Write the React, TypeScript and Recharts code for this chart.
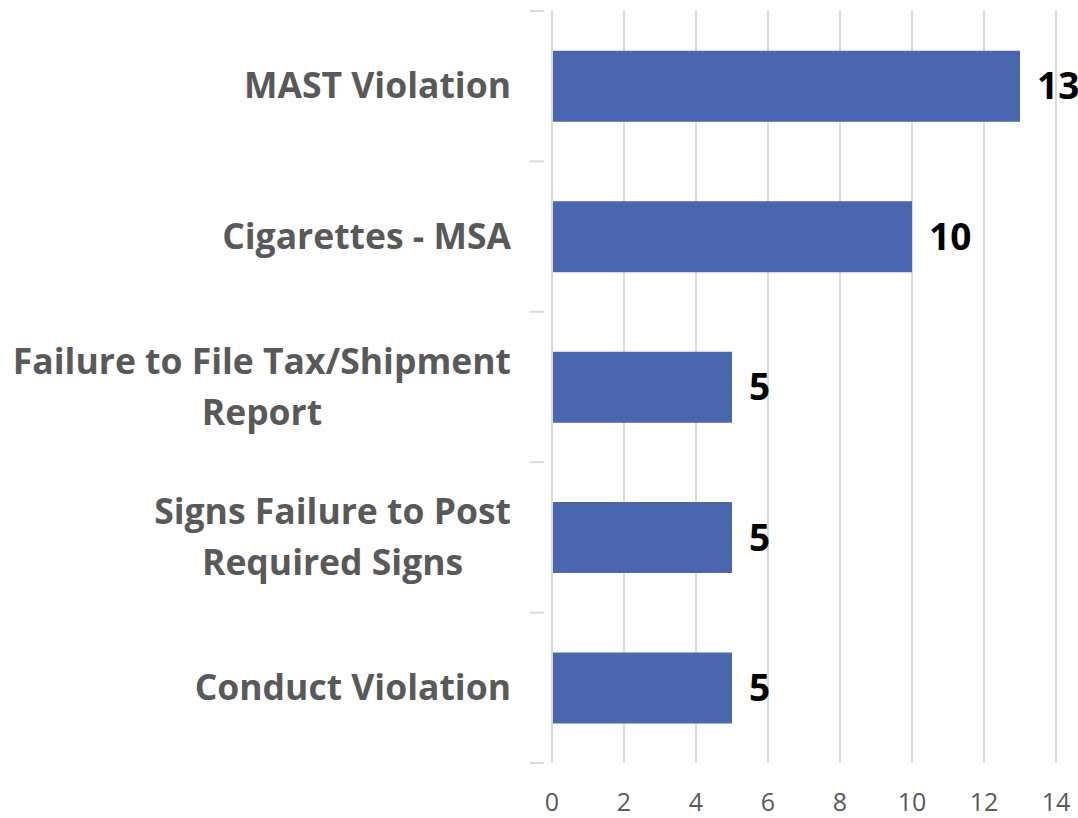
import { BarChart, Bar, XAxis, YAxis, CartesianGrid, LabelList } from 'recharts';

// ── data ──────────────────────────────────────────────────────────────────────

const categories = [
  'MAST Violation',
  'Cigarettes - MSA',
  'Failure to File Tax/Shipment\nReport',
  'Signs Failure to Post\nRequired Signs',
  'Conduct Violation',
];
const counts = [13, 10, 5, 5, 5];
const xTicks = [0, 2, 4, 6, 8, 10, 12, 14];

const data = categories.map((name, i) => ({ name, value: counts[i] }));

// ── layout ────────────────────────────────────────────────────────────────────

const W = 1078;
const H = 818;
const TOP = 11;
const BOTTOM = 55;
const AXIS_W = 552;
const BAND = (H - TOP - BOTTOM) / categories.length;
const FONT = '"Open Sans", Lato, sans-serif';
const CAT_SIZE = 35.5;

let measureCtx: CanvasRenderingContext2D | null = null;
function textWidth(s: string) {
  if (!measureCtx) measureCtx = document.createElement('canvas').getContext('2d');
  if (!measureCtx) return s.length * CAT_SIZE * 0.55;
  measureCtx.font = `700 ${CAT_SIZE}px ${FONT}`;
  return measureCtx.measureText(s).width;
}

// multi-line labels: block right-aligned, lines centred within the block
function CategoryTick({ x, y, payload, index }: any) {
  const lines = String(payload.value).split('\n');
  const lh = 51;
  const y0 = y - 2 - ((lines.length - 1) * lh) / 2;
  const right = x - 33;
  const blockW = Math.max(...lines.map(textWidth));
  const cx = right - blockW / 2;
  return (
    <g>
      <line x1={x - 14} x2={x} y1={y - BAND / 2} y2={y - BAND / 2} stroke="#d9d9d9" strokeWidth={2} />
      {index === categories.length - 1 && (
        <line x1={x - 14} x2={x} y1={y + BAND / 2} y2={y + BAND / 2} stroke="#d9d9d9" strokeWidth={2} />
      )}
      <text
        x={cx}
        y={y0}
        textAnchor="middle"
        dominantBaseline="central"
        fill="#595959"
        fontSize={CAT_SIZE}
        fontWeight={700}
        fontFamily={FONT}
      >
        {lines.map((l, i) => (
          <tspan key={i} x={cx} y={y0 + i * lh}>{l}</tspan>
        ))}
      </text>
    </g>
  );
}

export default function App() {
  return (
    <div style={{ position: 'absolute', left: 0, top: 0, width: W, height: H, background: '#fff' }}>
      <BarChart
        width={W}
        height={H}
        data={data}
        layout="vertical"
        margin={{ top: TOP, right: 22, bottom: 0, left: 0 }}
        barCategoryGap="26.5%"
      >
        <CartesianGrid horizontal={false} stroke="#d9d9d9" strokeWidth={2} />
        <XAxis
          type="number"
          domain={[0, 14]}
          ticks={xTicks}
          axisLine={false}
          tickLine={false}
          height={BOTTOM}
          tick={{ fontSize: 25, fill: '#595959', fontFamily: FONT, dy: 22 }}
        />
        <YAxis
          type="category"
          dataKey="name"
          width={AXIS_W}
          axisLine={{ stroke: '#d9d9d9', strokeWidth: 2 }}
          tickLine={false}
          tick={<CategoryTick />}
          interval={0}
        />
        <Bar dataKey="value" fill="#4966AE" isAnimationActive={false}>
          <LabelList
            dataKey="value"
            position="right"
            offset={17}
            fill="#000"
            fontSize={37}
            fontWeight={700}
            fontFamily={FONT}
          />
        </Bar>
      </BarChart>
    </div>
  );
}
